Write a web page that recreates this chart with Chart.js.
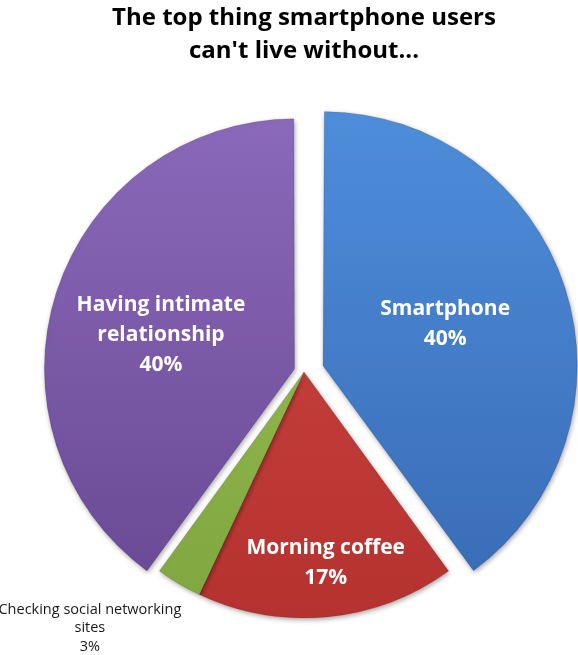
<!DOCTYPE html>
<html>
<head>
<meta charset="utf-8">
<title>The top thing smartphone users can't live without...</title>
<script src="https://cdn.jsdelivr.net/npm/chart.js@4.4.0/dist/chart.umd.min.js"></script>
<style>
  html, body { margin: 0; padding: 0; background: #fff; }
  #wrap { width: 578px; height: 655px; }
</style>
</head>
<body>
<div id="wrap"><canvas id="pie" width="578" height="655"></canvas></div>
<script>
// survey answers, clockwise from 12 o'clock
const categories = ['Smartphone', 'Morning coffee', 'Checking social networking sites', 'Having intimate relationship'];
const shares = [40, 17, 3, 40];
const labelLines = [
  ['Smartphone'],
  ['Morning coffee'],
  ['Checking social networking', 'sites'],
  ['Having intimate', 'relationship']
];
const titleLines = ['The top thing smartphone users', "can't live without..."];

// look
const topColors = ['#4f8fdd', '#d24a45', '#9cc656', '#8d6bbd'];
const bottomColors = ['#3768b2', '#b3302e', '#7ea43e', '#65458f'];
const explode = [80, 0, 0, 40];          // chart.js divides arc offset by 4
const insideLabel = [true, true, false, true];
// where each label sits: angle tweak (deg) and distance as part of the radius
const labelSpot = [
  { turn: -1, dist: 0.525 },
  { turn: -1.1, dist: 0.78 },
  { turn: 9.3, dist: 1.357 },
  { turn: -3.7, dist: 0.56 }
];

function sliceGradient(context) {
  const chart = context.chart;
  const area = chart.chartArea;
  const i = context.dataIndex;
  if (!area) return topColors[i];
  const g = chart.ctx.createLinearGradient(0, area.top, 0, area.bottom);
  g.addColorStop(0, topColors[i]);
  g.addColorStop(1, bottomColors[i]);
  return g;
}

const shadowPlugin = {
  id: 'softShadow',
  beforeDatasetsDraw(chart) {
    const ctx = chart.ctx;
    ctx.save();
    ctx.shadowColor = 'rgba(0,0,0,0.35)';
    ctx.shadowBlur = 5;
    ctx.shadowOffsetX = 1;
    ctx.shadowOffsetY = 2;
  },
  afterDatasetsDraw(chart) {
    chart.ctx.restore();
  }
};

const labelPlugin = {
  id: 'sliceLabels',
  afterDraw(chart) {
    const ctx = chart.ctx;
    const arcs = chart.getDatasetMeta(0).data;
    ctx.save();
    ctx.textAlign = 'center';
    ctx.textBaseline = 'middle';
    arcs.forEach((arc, i) => {
      const p = arc.getProps(['x', 'y', 'startAngle', 'endAngle', 'outerRadius']);
      const mid = (p.startAngle + p.endAngle) / 2;
      const shift = (arc.options.offset || 0) / 4;
      const cx = p.x + Math.cos(mid) * shift;
      const cy = p.y + Math.sin(mid) * shift;
      const ang = mid + labelSpot[i].turn * Math.PI / 180;
      const r = p.outerRadius * labelSpot[i].dist;
      const lx = cx + Math.cos(ang) * r;
      const ly = cy + Math.sin(ang) * r;
      const lines = labelLines[i].concat([shares[i] + '%']);
      let lineH, font, color;
      if (insideLabel[i]) {
        font = 'bold 21px "Open Sans", sans-serif';
        lineH = 30;
        color = '#ffffff';
      } else {
        font = '14.5px "Open Sans", sans-serif';
        lineH = 18.5;
        color = '#1a1a1a';
      }
      ctx.font = font;
      ctx.fillStyle = color;
      const top = ly - (lines.length - 1) * lineH / 2;
      lines.forEach((t, k) => ctx.fillText(t, lx, top + k * lineH));
    });
    ctx.restore();
  }
};

new Chart(document.getElementById('pie'), {
  type: 'pie',
  data: {
    labels: categories,
    datasets: [{
      data: shares,
      backgroundColor: sliceGradient,
      borderColor: 'rgba(0,0,0,0.12)',
      borderWidth: 1,
      offset: explode
    }]
  },
  options: {
    responsive: false,
    animation: false,
    radius: 246,
    layout: { padding: { left: 30, right: 0, top: 0, bottom: 0 } },
    plugins: {
      legend: { display: false },
      tooltip: { enabled: false },
      title: {
        display: true,
        text: titleLines,
        color: '#000000',
        font: { family: '"Open Sans", sans-serif', size: 24, weight: 'bold', lineHeight: 1.375 },
        padding: { top: 2, bottom: 21 }
      }
    }
  },
  plugins: [shadowPlugin, labelPlugin]
});
</script>
</body>
</html>
